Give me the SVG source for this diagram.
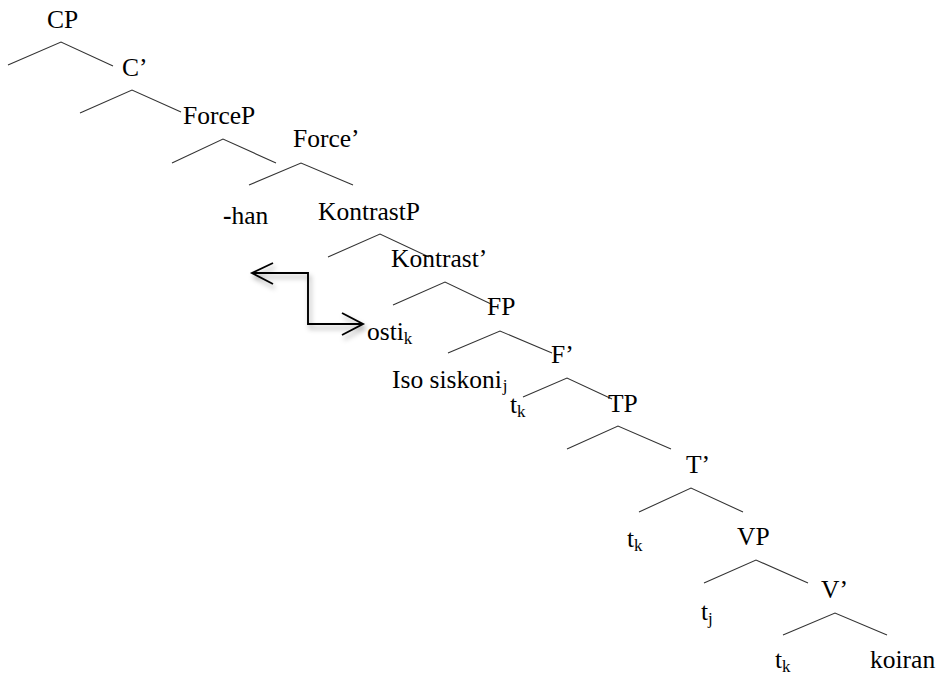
<svg xmlns="http://www.w3.org/2000/svg" width="938" height="677" viewBox="0 0 938 677">
  <style>
    text { font-family: "Liberation Serif", "Times New Roman", serif; font-size: 25.5px; fill: #000; }
    .sub { font-size: 17px; }
    .branch { fill: none; stroke: #333; stroke-width: 1.1; }
    .move { fill: none; stroke: #000; stroke-width: 1.9; stroke-linejoin: miter; }
  </style>
  <defs>
    <filter id="shadow" x="-20%" y="-20%" width="150%" height="150%">
      <feDropShadow dx="2" dy="4" stdDeviation="2.5" flood-color="#000" flood-opacity="0.35"/>
    </filter>
  </defs>
  <rect width="938" height="677" fill="#fff"/>

  <!-- branches of the tree -->
  <g id="connectors">
    <polyline class="branch" points="8,65 61,42 113,66"/>
    <polyline class="branch" points="80,113 132,90 181,112"/>
    <polyline class="branch" points="172,163 223,139 276,163"/>
    <polyline class="branch" points="249,185 301,163 353,185"/>
    <polyline class="branch" points="328,257 380,234 429,257"/>
    <polyline class="branch" points="393,305 445,282 491,304"/>
    <polyline class="branch" points="448,353 500,331 552,353"/>
    <polyline class="branch" points="523,397 567,378 612,399"/>
    <polyline class="branch" points="567,449 618,426 671,449"/>
    <polyline class="branch" points="639,512 691,488 743,512"/>
    <polyline class="branch" points="704,583 756,560 808,583"/>
    <polyline class="branch" points="783,635 835,613 887,635"/>
    <!-- movement arrow -->
    <g id="movement" filter="url(#shadow)">
      <polyline class="move" points="252,273 308,273 308,324 362,324"/>
      <polyline class="move" points="273,263 252,273 273,284"/>
      <polyline class="move" points="342,313 363,324 342,335"/>
    </g>
  </g>

  <g id="CP"><text x="47" y="28">CP</text></g>
  <g id="Cbar"><text x="122" y="76">C’</text></g>
  <g id="ForceP"><text x="183" y="124">ForceP</text></g>
  <g id="Forcebar"><text x="293" y="147">Force’</text></g>
  <g id="han"><text x="223" y="224"><tspan font-weight="bold">-</tspan>han</text></g>
  <g id="KontrastP"><text x="318" y="220">KontrastP</text></g>
  <g id="Kontrastbar"><text x="391" y="267">Kontrast’</text></g>
  <g id="FP"><text x="487" y="315">FP</text></g>
  <g id="osti"><text x="367" y="340">osti<tspan class="sub" dy="4">k</tspan></text></g>
  <g id="Fbar"><text x="551" y="363">F’</text></g>
  <g id="IsoSiskoni"><text x="392" y="388">Iso siskoni<tspan class="sub" dx="1" dy="3">j</tspan></text></g>
  <g id="tk1"><text x="510" y="413">t<tspan class="sub" dy="4">k</tspan></text></g>
  <g id="TP"><text x="608" y="412">TP</text></g>
  <g id="Tbar"><text x="686" y="473">T’</text></g>
  <g id="tk2"><text x="627" y="547">t<tspan class="sub" dy="4">k</tspan></text></g>
  <g id="VP"><text x="737" y="545">VP</text></g>
  <g id="Vbar"><text x="821" y="598">V’</text></g>
  <g id="tj"><text x="701" y="620">t<tspan class="sub" dy="4">j</tspan></text></g>
  <g id="tk3"><text x="775" y="668">t<tspan class="sub" dy="4">k</tspan></text></g>
  <g id="koiran"><text x="870" y="668">koiran</text></g>
</svg>
